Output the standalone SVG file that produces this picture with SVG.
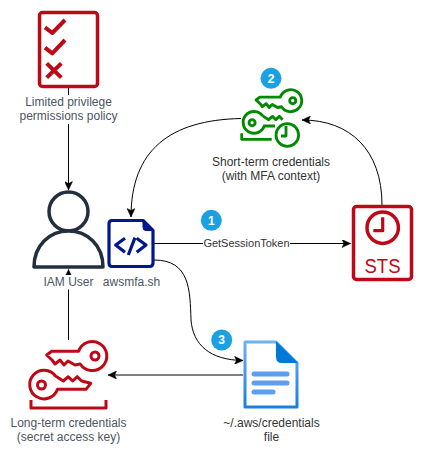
<svg xmlns="http://www.w3.org/2000/svg" width="424" height="456" viewBox="0 0 424 456">
<style>
text{font-family:"Liberation Sans",Arial,sans-serif;font-size:12px;text-anchor:middle;fill:#4d5560}
.dark{fill:#333}
.edge{fill:none;stroke:#000;stroke-width:1}
.ln{fill:none;stroke-linecap:butt;stroke-linejoin:round}
.red{stroke:#bf0816;stroke-width:3.2}
.chk{stroke:#bf0816;stroke-width:4}
.grn{stroke:#008a00;stroke-width:2.8}
.navy{stroke:#00188f;stroke-width:3.2}
.badge circle{fill:#1ba1e2}
.badge text{fill:#fff;font-weight:bold}
</style>
<defs>
<marker id="arr" markerUnits="userSpaceOnUse" viewBox="0 0 10 8" refX="9.5" refY="4" markerWidth="10" markerHeight="8" orient="auto">
<path d="M1,0 L9.5,4 L1,8 L3,4 Z" fill="#000" stroke="#000" stroke-width=".5"/>
</marker>
<linearGradient id="fb" x1="0" y1="0" x2="0" y2="1">
<stop offset="0" stop-color="#6db0f5"/><stop offset="1" stop-color="#1a7fe0"/>
</linearGradient>
</defs>
<g id="connectors">
<path class="edge" marker-end="url(#arr)" d="M68.5,88 V190"/>
<path class="edge" marker-end="url(#arr)" d="M68.5,340 V269.5"/>
<path class="edge" marker-end="url(#arr)" d="M154,243.5 H350.5"/>
<path class="edge" marker-end="url(#arr)" d="M241,118.5 C170,120 131,150 131,217"/>
<path class="edge" marker-end="url(#arr)" d="M382,205 C382,150 350,120 302,120"/>
<path class="edge" marker-end="url(#arr)" d="M154,260 C190,260 190,290 191,320 C193,345 210,360 243,360.5"/>
<path class="edge" marker-end="url(#arr)" d="M243,375 H108"/>
<rect x="203" y="236" width="87" height="14" fill="#fff"/>
<text x="246.5" y="247" class="dark" style="font-size:11px">GetSessionToken</text>
</g>
<g id="policy">
<rect x="39.5" y="12.5" width="58" height="74" rx="3" fill="#fff" stroke="#bf0816" stroke-width="3.5"/>
<path class="ln chk" d="M45,27.3 L52.3,33 L65,20 M45,47.7 L52.3,53.3 L65,40 M46.7,63.3 L61.3,77.7 M61.3,63.3 L46.7,77.7"/>
<rect x="19" y="95" width="99" height="29" fill="#fff"/>
<text x="68.5" y="105.5">Limited privilege</text>
<text x="68.5" y="120">permissions policy</text>
</g>
<g id="user">
<circle cx="68.5" cy="211.5" r="19.5" fill="#fff" stroke="#232f3e" stroke-width="3.5"/>
<path d="M34,267 C34,245 50,231 68.5,231 C87,231 103,245 103,267 Z" fill="#fff" stroke="#232f3e" stroke-width="3.5" stroke-linejoin="round"/>
<rect x="40" y="275" width="58" height="14.5" fill="#fff"/>
<text x="68.5" y="285.5">IAM User</text>
</g>
<g id="script">
<path d="M112,220.5 H143 L153,230.5 V263 Q153,266.5 149.5,266.5 H112 Q109,266.5 109,263 V224 Q109,220.5 112,220.5 Z" fill="#fff" stroke="#00188f" stroke-width="3.2" stroke-linejoin="round"/>
<path d="M143,220.5 L153,230.5 H146 Q143,230.5 143,227.5 Z" fill="#00188f" stroke="#00188f"/>
<path class="ln navy" d="M125,238.3 L115.7,245 L125,252.3 M135,237.7 L128.3,255 M136.7,238.3 L146,245 L136.7,252.3"/>
<text x="131.5" y="285.5">awsmfa.sh</text>
</g>
<g id="sts">
<rect x="353.5" y="206.5" width="58" height="73" rx="3" fill="#fff" stroke="#bf0816" stroke-width="3.5"/>
<circle cx="382.7" cy="227.7" r="15.7" fill="none" stroke="#bf0816" stroke-width="3.5"/>
<path class="ln red" d="M382.7,217.3 V230.7 H373.3"/>
<text x="382.5" y="272.5" textLength="36" lengthAdjust="spacingAndGlyphs" style="font-size:20px;fill:#bf0816">STS</text>
</g>
<g id="short-term">
<g transform="translate(220.55,-169.9) scale(.76)" fill="none" stroke="#008a00" stroke-width="3.8" stroke-linejoin="round">
<path d="M46.7,355 L51.7,351.3 H78.6 A14.5,14.5 0 1 1 80.2,364 L75,365 L68,361 L64,365 L60,360 L55,364 L52,360 Z"/>
<circle cx="95" cy="356" r="4"/>
<path d="M55.5,376 L63.3,381 L68.3,376.7 L72.7,381 L77.3,376.7 L81.7,381 M71.6,389.3 H57.5 A14.3,14.3 0 1 1 55.5,376"/>
<circle cx="41.5" cy="385" r="4"/>
</g>
<path class="ln grn" d="M241.7,133.3 V139.3 H271.7"/>
<circle cx="287.3" cy="135" r="11.3" fill="#fff" stroke="#008a00" stroke-width="2.8"/>
<path class="ln grn" d="M286,126 V136 H281"/>
<text x="271" y="165.5" class="dark">Short-term credentials</text>
<text x="271" y="180" class="dark">(with MFA context)</text>
</g>
<g id="long-term">
<g fill="none" stroke="#bf0816" stroke-width="3" stroke-linejoin="round">
<path d="M46.7,355 L51.7,351.3 H78.6 A14.5,14.5 0 1 1 80.2,364 L75,365 L68,361 L64,365 L60,360 L55,364 L52,360 Z"/>
<circle cx="95" cy="356" r="4"/>
<path d="M55.5,376 L63.3,381 L68.3,376.7 L72.7,381 L77.3,376.7 L81.7,381 L90.7,383.3 L86,389.3 H57.5 A14.3,14.3 0 1 1 55.5,376 Z"/>
<circle cx="41.5" cy="385" r="4"/>
<path d="M31,400 V408 H106 V400"/>
</g>
<text x="68.5" y="426.5">Long-term credentials</text>
<text x="68.5" y="440.5">(secret access key)</text>
</g>
<g id="file">
<path d="M245,342 H276 L297,363 V407 H245 Z" fill="#fff" stroke="url(#fb)" stroke-width="3" stroke-linejoin="round"/>
<path d="M276,341 L298,363 H282 Q276,363 276,357 Z" fill="#0078d7"/>
<path fill="none" stroke="#5c9ff0" stroke-width="5" stroke-linecap="round" d="M254,374 H287 M254,383 H287 M254,392 H273"/>
<text x="271.5" y="426.5" class="dark">~/.aws/credentials</text>
<text x="271.5" y="440.5" class="dark">file</text>
</g>
<g id="badge-1" class="badge"><circle cx="211.3" cy="220.3" r="10.5"/><text x="211.3" y="224.5">1</text></g>
<g id="badge-2" class="badge"><circle cx="271" cy="78.3" r="10.5"/><text x="271" y="82.5">2</text></g>
<g id="badge-3" class="badge"><circle cx="221.7" cy="340" r="10.5"/><text x="221.7" y="344.2">3</text></g>
</svg>
